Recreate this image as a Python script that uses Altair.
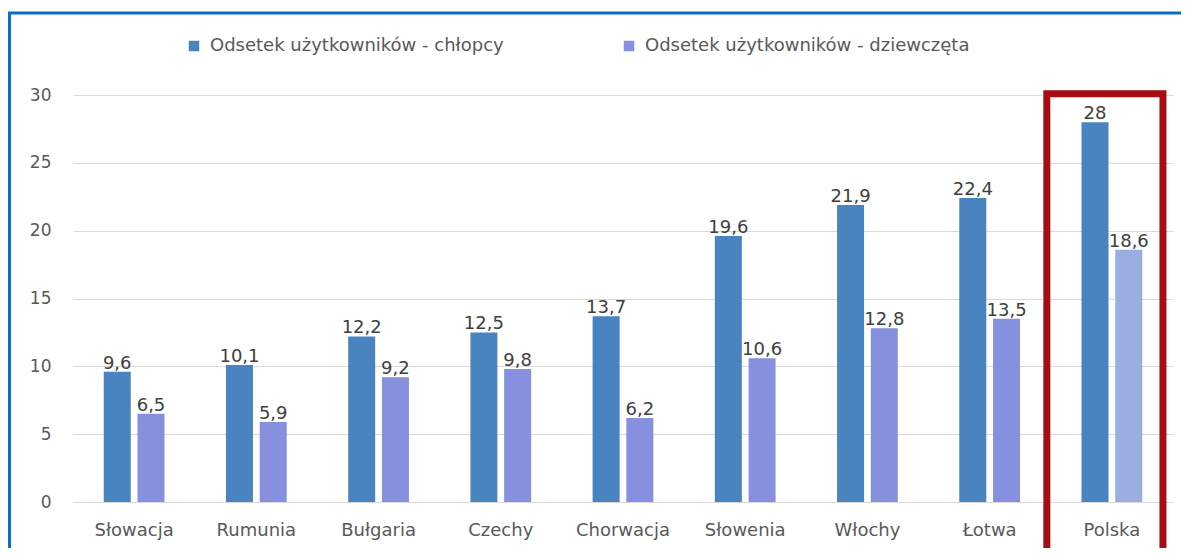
import altair as alt
import pandas as pd

countries = ["Słowacja", "Rumunia", "Bułgaria", "Czechy", "Chorwacja", "Słowenia", "Włochy", "Łotwa", "Polska"]
boys = [9.6, 10.1, 12.2, 12.5, 13.7, 19.6, 21.9, 22.4, 28]
girls = [6.5, 5.9, 9.2, 9.8, 6.2, 10.6, 12.8, 13.5, 18.6]
series_names = ["Odsetek użytkowników - chłopcy", "Odsetek użytkowników - dziewczęta"]
highlight_country = "Polska"
highlight_key = "Polska - dziewczęta"
y_ticks = [0, 5, 10, 15, 20, 25, 30]

def fmt(v):
    s = ("%g" % v)
    return s.replace(".", ",")

rows = []
for c, b, g in zip(countries, boys, girls):
    rows.append({"country": c, "series": series_names[0], "value": b, "label": fmt(b), "ckey": series_names[0]})
    rows.append({"country": c, "series": series_names[1], "value": g, "label": fmt(g),
                 "ckey": highlight_key if c == highlight_country else series_names[1]})
df = pd.DataFrame(rows)

FONT = "DejaVu Sans"

x_enc = alt.X("country:N", sort=countries, title=None,
              scale=alt.Scale(paddingInner=0.05, paddingOuter=0.025),
              axis=alt.Axis(labelAngle=0, labelFontSize=18, labelColor="#595959", labelFont=FONT,
                            ticks=False, domain=False, labelPadding=19))
xoff = alt.XOffset("series:N", sort=series_names,
                   scale=alt.Scale(paddingInner=0.2, paddingOuter=0.82))
y_enc = alt.Y("value:Q", title=None,
              scale=alt.Scale(domain=[0, 30], nice=False),
              axis=alt.Axis(values=y_ticks, labelFontSize=17, labelColor="#595959", labelFont=FONT,
                            ticks=False, domain=False, labelPadding=22,
                            gridColor="#d9d9d9", gridWidth=1))

bars = alt.Chart(df).mark_bar().encode(
    x=x_enc,
    xOffset=xoff,
    y=y_enc,
    color=alt.Color("ckey:N",
                    scale=alt.Scale(domain=series_names + [highlight_key],
                                    range=["#4a84c0", "#8690df", "#9aaee0"]),
                    legend=alt.Legend(values=series_names, title=None, orient="none",
                                      direction="horizontal", legendX=112, legendY=-58,
                                      symbolType="square", symbolSize=110, symbolStrokeWidth=0,
                                      labelFontSize=18, labelFont=FONT, labelColor="#595959",
                                      labelLimit=0, columnPadding=116, labelOffset=7)),
)

labels = alt.Chart(df).mark_text(baseline="bottom", dy=1, fontSize=18, font=FONT, color="#404040").encode(
    x=alt.X("country:N", sort=countries),
    xOffset=alt.XOffset("series:N", sort=series_names),
    y="value:Q",
    text="label:N",
)

hl = pd.DataFrame({"country": [highlight_country], "top": [30.1], "bottom": [-4.5]})
box = alt.Chart(hl).mark_rect(fill=None, stroke="#a50d12", strokeWidth=7, clip=False,
                              xOffset=-7, x2Offset=-7).encode(
    x=alt.X("country:N", sort=countries),
    y="top:Q",
    y2="bottom:Q",
)

frame = alt.Chart(pd.DataFrame({"f": [1]})).mark_rect(fill=None, stroke="#0a6ec8", strokeWidth=3, clip=False).encode(
    x=alt.value(-63.5), x2=alt.value(1300), y=alt.value(-82), y2=alt.value(700)
)

chart = alt.layer(frame, bars, labels, box).properties(
    width=1100, height=407,
    padding={"left": 65, "top": 87, "right": 8, "bottom": 46},
    autosize="none",
    background="white",
).configure_view(stroke=None)

chart.save("out.html", embed_options={"renderer": "svg", "actions": False})
